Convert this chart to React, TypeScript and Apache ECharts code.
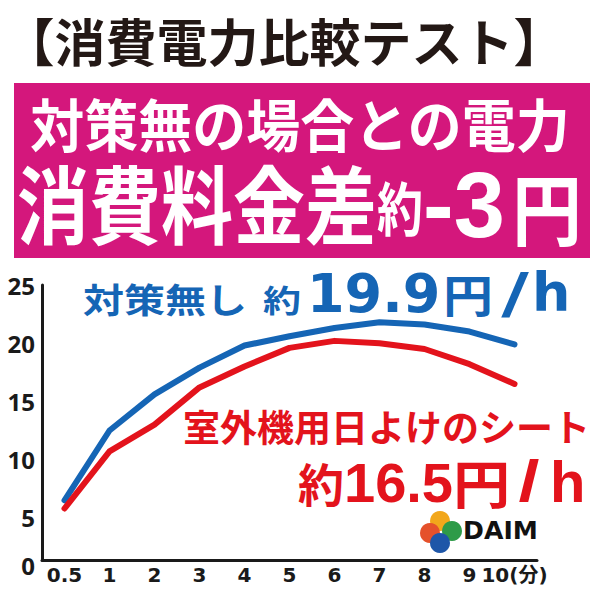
import React, { useEffect, useRef } from "react";
import * as echarts from "echarts";

const categories = ["0.5", "1", "2", "3", "4", "5", "6", "7", "8", "9", "10"];
const noMeasureValues = [6.5, 12.5, 15.6, 17.9, 19.8, 20.6, 21.3, 21.8, 21.6, 21.0, 19.9];
const sheetValues = [5.8, 10.7, 13.0, 16.2, 18.0, 19.6, 20.2, 20.0, 19.5, 18.2, 16.5];
const yMin = 0;
const yMax = 25;
const yInterval = 5;
const lastLabelSuffix = "(分)";

const BLUE = "#1565B5";
const RED = "#E3131C";
const MAGENTA = "#D4177C";
const CJK = "'Noto Sans CJK JP', sans-serif";
const DEJAVU = "'DejaVu Sans', sans-serif";
const LIB = "'Liberation Sans', sans-serif";

function txt(text: string, x: number, y: number, fontSize: number, fill: string, family: string, opts: any = {}) {
  return {
    type: "text",
    x,
    y,
    scaleX: opts.sx ?? 1,
    scaleY: opts.sy ?? 1,
    z: 10,
    style: {
      text,
      fill,
      fontSize,
      fontFamily: family,
      fontWeight: "bold",
      textAlign: opts.align ?? "left",
      align: opts.align ?? "left",
      textVerticalAlign: "middle",
      verticalAlign: "middle",
    },
  };
}

export default function App() {
  const ref = useRef<HTMLDivElement>(null);
  useEffect(() => {
    if (!ref.current) return;
    const chart = echarts.init(ref.current, null, { renderer: "svg" });
    const gridLeft = 42;
    const gridWidth = 495;
    const option: any = {
      animation: false,
      backgroundColor: "#ffffff",
      grid: [
        { left: gridLeft, top: 285, width: gridWidth, height: 291 },
        { left: gridLeft, top: 285, width: gridWidth, height: 275 },
      ],
      xAxis: [
        {
          gridIndex: 0,
          type: "category",
          data: categories,
          boundaryGap: true,
          axisLine: { show: false },
          axisTick: { show: false },
          axisLabel: { show: false },
          splitLine: { show: false },
        },
        {
          gridIndex: 1,
          type: "category",
          data: categories,
          boundaryGap: true,
          axisLine: { show: true, lineStyle: { color: "#1a1a1a", width: 3 } },
          axisTick: { show: false },
          axisLabel: {
            show: true,
            interval: 0,
            margin: 5,
            color: "#1a1a1a",
            fontSize: 20,
            fontWeight: "bold",
            fontFamily: "'DejaVu Sans', " + CJK,
            formatter: (v: string, i: number) => (i === categories.length - 1 ? v + lastLabelSuffix : v),
          },
          splitLine: { show: false },
        },
      ],
      yAxis: [
        {
          gridIndex: 0,
          type: "value",
          min: yMin,
          max: yMax,
          interval: yInterval,
          axisLine: { show: false },
          axisTick: { show: false },
          splitLine: { show: false },
          axisLabel: {
            show: true,
            margin: 7,
            color: "#1a1a1a",
            fontSize: 24,
            fontWeight: "bold",
            fontFamily: "'Noto Sans', sans-serif",
            formatter: (v: number) => (v === 0 ? "{z|0}" : String(v)),
            rich: {
              z: {
                fontSize: 24,
                fontWeight: "bold",
                fontFamily: "'Noto Sans', sans-serif",
                color: "#1a1a1a",
                padding: [0, 0, 22, 0],
              },
            },
          },
        },
        {
          gridIndex: 1,
          type: "value",
          min: yMin,
          max: yMax,
          interval: yInterval,
          axisLine: { show: true, lineStyle: { color: "#1a1a1a", width: 3 } },
          axisTick: { show: false },
          axisLabel: { show: false },
          splitLine: { show: false },
        },
      ],
      series: [
        {
          name: "対策無し",
          type: "line",
          xAxisIndex: 0,
          yAxisIndex: 0,
          data: noMeasureValues,
          symbol: "none",
          lineStyle: { color: BLUE, width: 6, cap: "round", join: "round" },
          z: 3,
        },
        {
          name: "室外機用日よけのシート",
          type: "line",
          xAxisIndex: 0,
          yAxisIndex: 0,
          data: sheetValues,
          symbol: "none",
          lineStyle: { color: RED, width: 6, cap: "round", join: "round" },
          z: 4,
        },
      ],
      graphic: [
        txt("【消費電力比較テスト】", 284, 40, 51, "#231815", CJK, { align: "center" }),
        { type: "rect", shape: { x: 14, y: 83, width: 576, height: 175 }, style: { fill: MAGENTA }, z: 5 },
        txt("対策無の場合との電力", 300, 122, 54, "#ffffff", CJK, { align: "center", sy: 1.05 }),
        txt("消費料金差", 17, 201, 72, "#ffffff", CJK, { sy: 1.18 }),
        txt("約", 377, 206, 46, "#ffffff", CJK, { sy: 1.25 }),
        txt("-3", 423, 205, 92, "#ffffff", LIB),
        txt("円", 512, 206, 70, "#ffffff", CJK, { sy: 1.12 }),
        // blue annotation
        txt("対策無し", 83, 298, 41, BLUE, CJK, { sy: 0.84 }),
        txt("約", 263, 299, 38, BLUE, CJK, { sy: 0.82 }),
        txt("19.9", 307, 293, 54, BLUE, DEJAVU),
        txt("円", 443, 294, 50, BLUE, CJK, { sy: 0.9 }),
        txt("/", 515, 293, 56, BLUE, DEJAVU, { align: "center", sx: 1.35 }),
        txt("h", 532, 292, 54, BLUE, DEJAVU),
        // red annotation
        txt("室外機用日よけのシート", 183, 426, 37, RED, CJK),
        txt("約", 298, 482, 46, RED, CJK),
        txt("16.5", 344, 482, 56, RED, LIB),
        txt("円", 453, 482, 52, RED, CJK, { sx: 1.1 }),
        txt("/", 529, 481, 58, RED, LIB, { align: "center", sx: 1.3 }),
        txt("h", 550, 481, 58, RED, LIB),
        // logo
        { type: "circle", shape: { cx: 440, cy: 521, r: 10 }, style: { fill: "#F2A71B" }, z: 10 },
        { type: "circle", shape: { cx: 452, cy: 531, r: 10 }, style: { fill: "#2E9B48" }, z: 10 },
        { type: "circle", shape: { cx: 430, cy: 533, r: 10 }, style: { fill: "#E5512B" }, z: 10 },
        { type: "circle", shape: { cx: 440, cy: 543, r: 10 }, style: { fill: "#1E56A8" }, z: 10 },
        txt("DAIM", 463, 531, 24, "#111111", DEJAVU, { sx: 1.05 }),
      ],
    };
    chart.setOption(option);
    return () => chart.dispose();
  }, []);
  return (
    <div
      ref={ref}
      style={{ position: "fixed", left: 0, top: 0, width: 600, height: 600, background: "#fff" }}
    />
  );
}
